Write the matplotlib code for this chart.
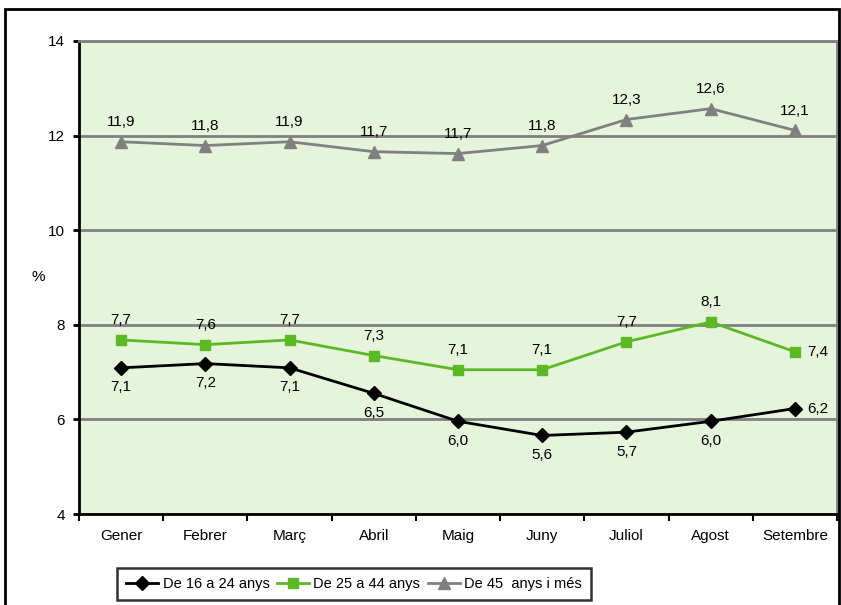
import matplotlib.pyplot as plt
from matplotlib.patches import Rectangle

months = ["Gener", "Febrer", "Març", "Abril", "Maig", "Juny", "Juliol", "Agost", "Setembre"]

# plotted values and their printed labels
young = [7.09, 7.18, 7.09, 6.55, 5.96, 5.66, 5.73, 5.96, 6.23]
young_lbl = ["7,1", "7,2", "7,1", "6,5", "6,0", "5,6", "5,7", "6,0", "6,2"]
middle = [7.68, 7.58, 7.68, 7.35, 7.05, 7.05, 7.64, 8.06, 7.43]
middle_lbl = ["7,7", "7,6", "7,7", "7,3", "7,1", "7,1", "7,7", "8,1", "7,4"]
older = [11.87, 11.79, 11.87, 11.66, 11.62, 11.79, 12.34, 12.57, 12.11]
older_lbl = ["11,9", "11,8", "11,9", "11,7", "11,7", "11,8", "12,3", "12,6", "12,1"]

plt.rcParams['font.family'] = ['Liberation Sans', 'DejaVu Sans']

W, H = 841, 605
fig = plt.figure(figsize=(W / 100, H / 100), dpi=100)
# outer frame (bottom edge runs off the picture)
fig.patches.append(Rectangle((5 / W, -5 / H), 834 / W, 601 / H, transform=fig.transFigure,
                             fill=False, edgecolor='black', linewidth=2))

ax = fig.add_axes([79 / W, 1 - 514 / H, (837 - 79) / W, (514 - 41) / H])
ax.set_facecolor('#e6f4dc')

x = list(range(len(months)))
green = '#5cb825'
gray = '#808080'

ax.plot(x, young, color='black', lw=2, marker='D', ms=7, label='De 16 a 24 anys', zorder=4)
ax.plot(x, middle, color=green, lw=2, marker='s', ms=7, label='De 25 a 44 anys', zorder=3)
ax.plot(x, older, color=gray, lw=2, marker='^', ms=8, label='De 45  anys i més', zorder=3)

fs = 11
last = len(months) - 1
for i in x:
    ax.annotate(older_lbl[i], (i, older[i]), xytext=(0, 9), textcoords='offset points',
                ha='center', va='bottom', fontsize=fs)
    if i == last:
        ax.annotate(middle_lbl[i], (i, middle[i]), xytext=(9, 0), textcoords='offset points',
                    ha='left', va='center', fontsize=fs)
        ax.annotate(young_lbl[i], (i, young[i]), xytext=(9, 0), textcoords='offset points',
                    ha='left', va='center', fontsize=fs)
    else:
        ax.annotate(middle_lbl[i], (i, middle[i]), xytext=(0, 9), textcoords='offset points',
                    ha='center', va='bottom', fontsize=fs)
        ax.annotate(young_lbl[i], (i, young[i]), xytext=(0, -9), textcoords='offset points',
                    ha='center', va='top', fontsize=fs)

ax.set_xlim(-0.5, last + 0.5)
ax.set_ylim(4, 14)
ax.set_yticks([4, 6, 8, 10, 12, 14])
ax.set_xticks(x)
ax.set_xticklabels(months, fontsize=fs)
ax.tick_params(axis='x', length=0, pad=11)
ax.set_xticks([i - 0.5 for i in range(len(months) + 1)], minor=True)
ax.tick_params(axis='x', which='minor', length=5, width=1.5, direction='out')
ax.tick_params(axis='y', length=4, width=2, labelsize=fs, pad=6)
ax.grid(axis='y', color=gray, lw=2)
ax.set_axisbelow(True)

ax.spines['left'].set_linewidth(2)
ax.spines['bottom'].set_linewidth(2)
for s in ['top', 'right']:
    ax.spines[s].set_color(gray)
    ax.spines[s].set_linewidth(2)

fig.text(38 / W, 1 - 277 / H, '%', ha='center', va='center', fontsize=fs)

leg = fig.legend(loc='center', bbox_to_anchor=(354 / W, 1 - 584 / H), ncol=3,
                 fontsize=10.5, frameon=True, fancybox=False, edgecolor='black',
                 handlelength=2.2, handletextpad=0.3, columnspacing=0.5, borderpad=0.65)
leg.get_frame().set_linewidth(1.8)

fig.savefig('out.png', dpi=100)
